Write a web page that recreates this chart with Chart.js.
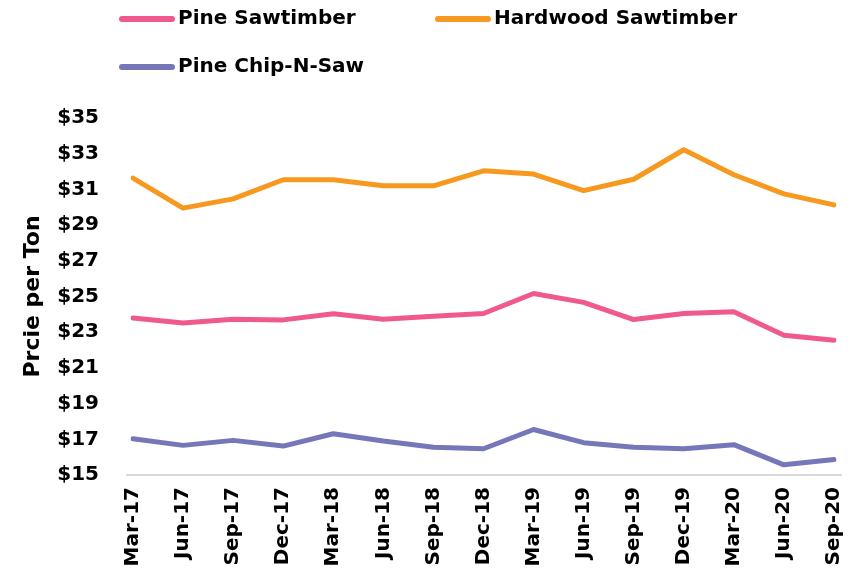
<!DOCTYPE html>
<html>
<head>
<meta charset="utf-8">
<script src="https://cdn.jsdelivr.net/npm/chart.js@4"></script>
<style>
  html, body { margin: 0; padding: 0; background: #fff; }
  #wrap { width: 856px; height: 577px; }
</style>
</head>
<body>
<div id="wrap"><canvas id="prices"></canvas></div>
<script>
var quarters = ['Mar-17', 'Jun-17', 'Sep-17', 'Dec-17', 'Mar-18', 'Jun-18', 'Sep-18', 'Dec-18',
                'Mar-19', 'Jun-19', 'Sep-19', 'Dec-19', 'Mar-20', 'Jun-20', 'Sep-20'];

var pineSawtimber = [23.80, 23.52, 23.73, 23.69, 24.03, 23.73, 23.90, 24.05,
                     25.17, 24.67, 23.71, 24.05, 24.14, 22.83, 22.55];
var hardwoodSawtimber = [31.63, 29.95, 30.47, 31.54, 31.54, 31.20, 31.20, 32.04,
                         31.86, 30.93, 31.57, 33.22, 31.82, 30.75, 30.13];
var pineChipNSaw = [17.03, 16.66, 16.94, 16.62, 17.31, 16.90, 16.56, 16.47,
                    17.55, 16.81, 16.56, 16.47, 16.70, 15.57, 15.87];

var priceMin = 15, priceMax = 35, priceStep = 2;

var boldFont = '"DejaVu Sans", sans-serif';

// legend drawn in two columns above the plot
var legendPlugin = {
  id: 'gridLegend',
  afterDraw: function(chart) {
    var ctx = chart.ctx;
    var cols = [119, 435], rows = [19, 67];
    ctx.save();
    ctx.font = 'bold 20px ' + boldFont;
    ctx.textBaseline = 'middle';
    ctx.textAlign = 'left';
    chart.data.datasets.forEach(function(ds, i) {
      var x = cols[i % 2], y = rows[Math.floor(i / 2)];
      ctx.strokeStyle = ds.borderColor;
      ctx.lineWidth = 6;
      ctx.lineCap = 'round';
      ctx.beginPath();
      ctx.moveTo(x + 3, y);
      ctx.lineTo(x + 53, y);
      ctx.stroke();
      ctx.fillStyle = '#000';
      ctx.fillText(ds.label, x + 59, y);
    });
    ctx.restore();
  }
};

// light baseline under the plot, a little wider than the data
var baselinePlugin = {
  id: 'baseline',
  beforeDatasetsDraw: function(chart) {
    var ctx = chart.ctx, area = chart.chartArea;
    var y = chart.scales.y.getPixelForValue(priceMin);
    ctx.save();
    ctx.strokeStyle = '#d9d9d9';
    ctx.lineWidth = 2;
    ctx.beginPath();
    ctx.moveTo(area.left - 7, y);
    ctx.lineTo(area.right + 8, y);
    ctx.stroke();
    ctx.restore();
  }
};

function series(label, data, color) {
  return {
    label: label,
    data: data,
    borderColor: color,
    backgroundColor: color,
    borderWidth: 5,
    borderCapStyle: 'round',
    borderJoinStyle: 'round',
    pointRadius: 0,
    tension: 0,
    fill: false
  };
}

var ctx = document.getElementById('prices').getContext('2d');
var priceChart = new Chart(ctx, {
  type: 'line',
  data: {
    labels: quarters,
    datasets: [
      series('Pine Sawtimber', pineSawtimber, '#f05a8a'),
      series('Hardwood Sawtimber', hardwoodSawtimber, '#f7981f'),
      series('Pine Chip-N-Saw', pineChipNSaw, '#7577b9')
    ]
  },
  options: {
    responsive: true,
    maintainAspectRatio: false,
    animation: false,
    layout: { padding: { top: 118, right: 22, bottom: 0, left: 0 } },
    plugins: {
      legend: { display: false },
      tooltip: { enabled: false }
    },
    scales: {
      x: {
        offset: false,
        grid: { display: false, drawTicks: false },
        border: { display: false },
        ticks: {
          autoSkip: false,
          minRotation: 90,
          maxRotation: 90,
          padding: 12,
          color: '#000',
          font: { family: boldFont, size: 20, weight: 'bold' }
        },
        afterFit: function(scale) {
          scale.height = 102;
          scale.paddingLeft = 0;
          scale.paddingRight = 0;
        }
      },
      y: {
        min: priceMin,
        max: priceMax,
        grid: { display: false, drawTicks: false },
        border: { display: false },
        ticks: {
          stepSize: priceStep,
          padding: 34,
          color: '#000',
          font: { family: boldFont, size: 20, weight: 'bold' },
          callback: function(v) { return '$' + v; }
        },
        title: {
          display: true,
          text: 'Prcie per Ton',
          color: '#000',
          padding: { top: 20, bottom: 0 },
          font: { family: boldFont, size: 22, weight: 'bold' }
        },
        afterFit: function(scale) { scale.width = 133; }
      }
    }
  },
  plugins: [baselinePlugin, legendPlugin]
});
</script>
</body>
</html>
